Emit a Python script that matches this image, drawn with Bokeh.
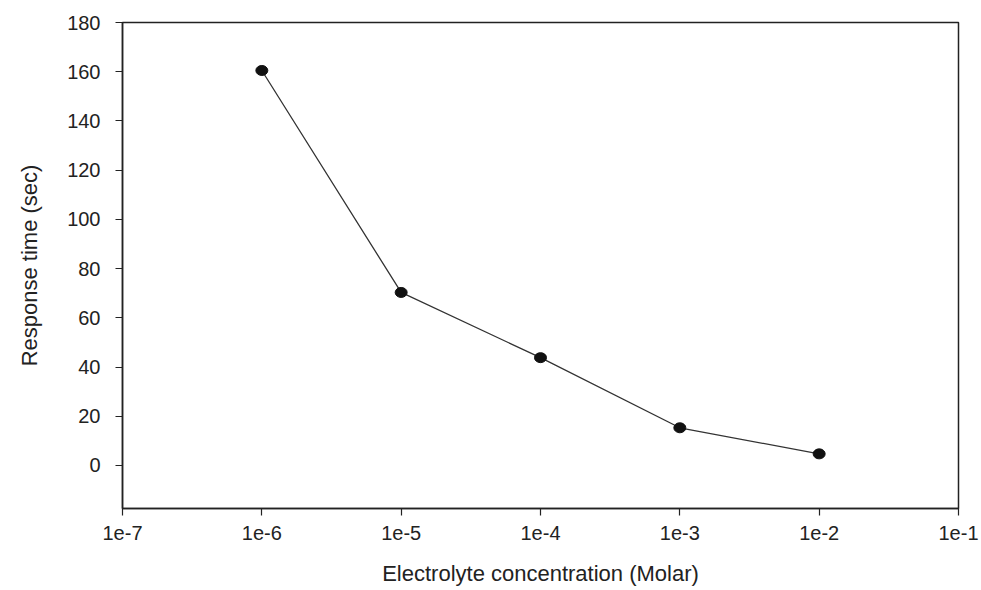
from bokeh.plotting import figure
from bokeh.models import FixedTicker, Range1d, CustomJSTickFormatter
from bokeh.embed import file_html
from bokeh.resources import INLINE

concentration = [1e-6, 1e-5, 1e-4, 1e-3, 1e-2]
response_time = [160.5, 70.3, 43.8, 15.3, 4.7]
x_ticks = [1e-7, 1e-6, 1e-5, 1e-4, 1e-3, 1e-2, 1e-1]
y_ticks = [0, 20, 40, 60, 80, 100, 120, 140, 160, 180]

FONT = "Liberation Sans"

p = figure(width=981, height=590, x_axis_type="log",
           x_range=Range1d(1e-7, 1e-1), y_range=Range1d(-17.5, 180),
           output_backend="svg", toolbar_location=None,
           min_border_left=122, min_border_right=23,
           min_border_top=22, min_border_bottom=82)

p.line(concentration, response_time, line_color="#333333", line_width=1.3)
p.ellipse(concentration, response_time, width=12, height=10,
          width_units="screen", height_units="screen",
          fill_color="#111111", line_color="#111111")

p.grid.visible = False
p.outline_line_color = "#222222"
p.outline_line_width = 1.5

p.xaxis.ticker = FixedTicker(ticks=x_ticks, minor_ticks=[])
p.xaxis.formatter = CustomJSTickFormatter(code="""
const e = Math.round(Math.log10(tick));
return '1e' + e;
""")
p.yaxis.ticker = FixedTicker(ticks=y_ticks, minor_ticks=[])

for ax in (p.xaxis[0], p.yaxis[0]):
    ax.axis_line_color = "#222222"
    ax.axis_line_width = 1.5
    ax.major_tick_line_color = "#222222"
    ax.major_tick_line_width = 1.2
    ax.major_tick_out = 7
    ax.major_tick_in = 0
    ax.minor_tick_line_color = None
    ax.major_label_text_font = FONT
    ax.major_label_text_font_size = "20px"
    ax.major_label_text_color = "#222222"
    ax.axis_label_text_font = FONT
    ax.axis_label_text_font_style = "normal"
    ax.axis_label_text_color = "#222222"

p.xaxis.axis_label = "Electrolyte concentration (Molar)"
p.xaxis.axis_label_text_font_size = "22px"
p.xaxis.major_label_standoff = 10
p.xaxis.axis_label_standoff = 18
p.yaxis.axis_label = "Response time (sec)"
p.yaxis.axis_label_text_font_size = "22px"
p.yaxis.major_label_standoff = 15
p.yaxis.axis_label_standoff = 22

open("out.html", "w").write(file_html(p, INLINE))
